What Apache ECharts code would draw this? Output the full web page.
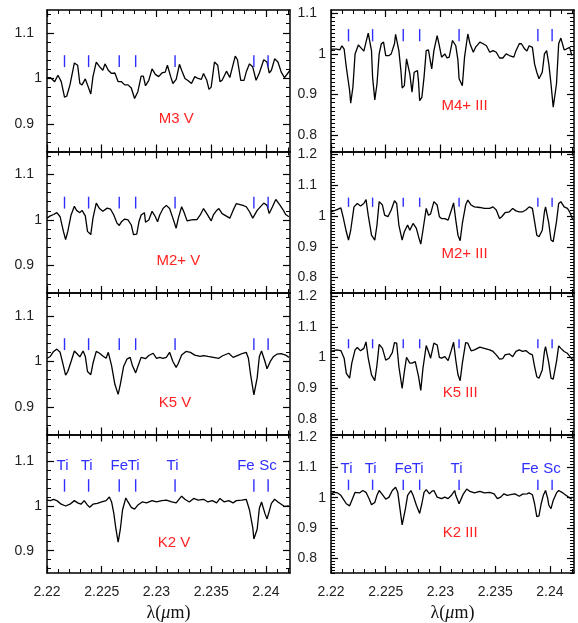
<!DOCTYPE html>
<html><head><meta charset="utf-8">
<script src="https://cdn.jsdelivr.net/npm/echarts@6/dist/echarts.min.js"></script>
<style>html,body{margin:0;padding:0;background:#fff}#c{width:578px;height:623px}</style>
</head><body><div id="c"></div>
<script>
// ---------------- DATA ----------------
const lineWavelengths = [2.2216, 2.2238, 2.2266, 2.2281, 2.2317, 2.2389, 2.2402];
const lineLabels = ['Ti', 'Ti', 'Fe', 'Ti', 'Ti', 'Fe', 'Sc'];
const xTicks = [2.22, 2.225, 2.23, 2.235, 2.24];
const yTicksDwarf = [0.9, 1, 1.1];
const yTicksGiantTop = [0.8, 0.9, 1, 1.1];
const yTicksGiant = [0.8, 0.9, 1, 1.1, 1.2];

const specM3V = [[2.2200,1.002],[2.2203,1.002],[2.2207,0.993],[2.2210,1.007],[2.2213,0.993],[2.2216,0.959],[2.2218,0.961],[2.2221,0.986],[2.2225,1.034],[2.2228,1.029],[2.2230,0.989],[2.2232,0.986],[2.2235,0.999],[2.2237,0.986],[2.2240,0.966],[2.2242,1.004],[2.2245,1.036],[2.2248,1.026],[2.2251,1.018],[2.2253,1.032],[2.2256,1.018],[2.2259,1.011],[2.2262,1.012],[2.2265,0.993],[2.2268,0.993],[2.2271,0.986],[2.2274,0.986],[2.2277,0.979],[2.2280,0.956],[2.2283,0.971],[2.2286,1.005],[2.2288,1.005],[2.2290,0.984],[2.2293,0.996],[2.2296,1.021],[2.2299,1.009],[2.2302,1.004],[2.2305,1.012],[2.2308,1.014],[2.2310,1.029],[2.2313,1.004],[2.2315,0.989],[2.2318,0.998],[2.2321,1.031],[2.2323,1.018],[2.2326,1.000],[2.2329,0.995],[2.2332,0.989],[2.2335,1.004],[2.2338,1.000],[2.2341,0.998],[2.2343,1.011],[2.2346,0.996],[2.2348,0.976],[2.2350,0.981],[2.2353,1.036],[2.2356,1.029],[2.2358,0.993],[2.2360,0.996],[2.2364,1.016],[2.2367,1.002],[2.2369,1.021],[2.2372,1.049],[2.2374,1.041],[2.2377,0.996],[2.2380,0.996],[2.2382,1.014],[2.2385,1.032],[2.2388,1.025],[2.2391,0.996],[2.2394,1.012],[2.2398,1.041],[2.2401,1.036],[2.2403,1.012],[2.2405,1.018],[2.2408,1.043],[2.2411,1.036],[2.2414,1.014],[2.2417,1.002],[2.2422,1.018]];

const specM2V = [[2.2200,1.004],[2.2203,1.009],[2.2206,1.012],[2.2209,1.016],[2.2212,1.007],[2.2215,0.975],[2.2217,0.957],[2.2219,0.975],[2.2222,1.011],[2.2225,1.030],[2.2227,1.021],[2.2230,1.016],[2.2232,1.021],[2.2235,1.009],[2.2237,0.975],[2.2240,0.968],[2.2242,1.004],[2.2245,1.037],[2.2248,1.025],[2.2251,1.019],[2.2255,1.026],[2.2258,1.024],[2.2261,1.011],[2.2264,0.993],[2.2266,0.988],[2.2268,0.996],[2.2271,1.002],[2.2274,1.000],[2.2277,0.989],[2.2279,0.968],[2.2282,0.969],[2.2284,0.996],[2.2286,1.011],[2.2289,1.016],[2.2290,0.995],[2.2293,1.000],[2.2296,1.019],[2.2299,1.007],[2.2301,0.996],[2.2303,1.011],[2.2306,1.025],[2.2309,1.032],[2.2312,1.025],[2.2315,1.004],[2.2318,0.982],[2.2320,1.004],[2.2323,1.029],[2.2325,1.018],[2.2328,0.998],[2.2332,1.000],[2.2337,1.001],[2.2340,1.011],[2.2343,1.025],[2.2346,1.014],[2.2350,0.998],[2.2352,1.011],[2.2355,1.021],[2.2357,1.025],[2.2360,1.014],[2.2367,1.004],[2.2370,1.021],[2.2373,1.036],[2.2379,1.032],[2.2382,1.029],[2.2385,1.018],[2.2388,1.004],[2.2392,1.021],[2.2398,1.037],[2.2401,1.032],[2.2403,1.014],[2.2406,1.029],[2.2409,1.045],[2.2413,1.032],[2.2416,1.021],[2.2418,1.012],[2.2421,1.007]];

const specK5V = [[2.2200,1.007],[2.2203,1.011],[2.2206,1.022],[2.2209,1.027],[2.2212,1.020],[2.2214,1.000],[2.2217,0.970],[2.2219,0.978],[2.2222,1.000],[2.2225,1.023],[2.2227,1.018],[2.2230,1.010],[2.2233,1.023],[2.2235,1.011],[2.2237,0.978],[2.2240,0.971],[2.2242,0.996],[2.2245,1.022],[2.2248,1.018],[2.2251,1.012],[2.2254,1.007],[2.2256,1.020],[2.2259,0.991],[2.2262,0.950],[2.2265,0.928],[2.2267,0.950],[2.2270,0.989],[2.2273,1.005],[2.2276,1.009],[2.2278,0.991],[2.2281,0.975],[2.2283,0.989],[2.2286,1.009],[2.2290,1.006],[2.2293,1.013],[2.2297,1.018],[2.2300,1.007],[2.2303,1.009],[2.2306,1.007],[2.2309,1.009],[2.2312,1.020],[2.2315,1.000],[2.2318,0.987],[2.2320,0.996],[2.2323,1.014],[2.2327,1.022],[2.2331,1.020],[2.2335,1.014],[2.2340,1.011],[2.2343,1.013],[2.2347,1.011],[2.2352,1.009],[2.2357,1.007],[2.2360,1.012],[2.2366,1.018],[2.2370,1.009],[2.2375,1.014],[2.2379,1.018],[2.2382,1.020],[2.2384,1.007],[2.2386,0.971],[2.2389,0.927],[2.2392,0.964],[2.2394,1.011],[2.2396,1.023],[2.2399,1.001],[2.2401,0.984],[2.2404,1.000],[2.2407,1.011],[2.2410,1.016],[2.2414,1.017],[2.2418,1.014],[2.2421,1.009]];

const specK2V = [[2.2200,1.013],[2.2203,1.012],[2.2206,1.015],[2.2209,1.012],[2.2213,1.004],[2.2217,1.000],[2.2221,1.004],[2.2225,1.012],[2.2228,1.007],[2.2231,1.004],[2.2234,1.012],[2.2237,1.002],[2.2239,0.997],[2.2242,1.004],[2.2246,1.006],[2.2250,1.009],[2.2254,1.012],[2.2257,1.020],[2.2259,1.009],[2.2261,0.984],[2.2263,0.948],[2.2265,0.919],[2.2267,0.948],[2.2269,0.991],[2.2272,1.018],[2.2274,1.009],[2.2277,0.997],[2.2280,0.993],[2.2283,1.002],[2.2287,1.009],[2.2291,1.007],[2.2296,1.012],[2.2300,1.009],[2.2305,1.012],[2.2309,1.013],[2.2314,1.009],[2.2318,1.007],[2.2323,1.022],[2.2326,1.015],[2.2330,1.009],[2.2334,1.017],[2.2338,1.013],[2.2343,1.015],[2.2347,1.009],[2.2351,1.012],[2.2355,1.007],[2.2358,1.017],[2.2362,1.009],[2.2366,1.012],[2.2370,1.007],[2.2373,1.012],[2.2378,1.013],[2.2382,1.015],[2.2385,0.991],[2.2388,0.951],[2.2389,0.926],[2.2392,0.948],[2.2394,0.995],[2.2396,1.009],[2.2399,0.984],[2.2401,0.971],[2.2403,0.988],[2.2405,1.006],[2.2408,1.015],[2.2411,1.009],[2.2414,1.004],[2.2417,0.999],[2.2421,1.000]];

const specM4III = [[2.2200,1.012],[2.2205,1.012],[2.2208,1.010],[2.2210,1.020],[2.2212,1.012],[2.2214,0.967],[2.2217,0.910],[2.2218,0.879],[2.2220,0.918],[2.2222,1.000],[2.2225,1.022],[2.2227,1.016],[2.2230,1.007],[2.2232,1.029],[2.2234,1.051],[2.2237,1.008],[2.2238,0.943],[2.2240,0.887],[2.2242,0.926],[2.2244,1.000],[2.2246,1.025],[2.2248,1.029],[2.2250,0.996],[2.2253,0.996],[2.2255,1.000],[2.2258,1.025],[2.2259,1.048],[2.2262,1.008],[2.2264,0.955],[2.2265,0.916],[2.2267,0.922],[2.2269,0.988],[2.2272,0.951],[2.2274,0.906],[2.2276,0.955],[2.2279,0.959],[2.2280,0.930],[2.2281,0.885],[2.2283,0.893],[2.2285,0.943],[2.2287,1.008],[2.2289,1.010],[2.2292,0.963],[2.2294,1.008],[2.2297,1.045],[2.2299,1.020],[2.2301,0.992],[2.2304,1.000],[2.2306,0.990],[2.2308,0.992],[2.2311,1.033],[2.2314,1.020],[2.2316,0.984],[2.2317,0.939],[2.2320,0.922],[2.2322,0.992],[2.2325,1.049],[2.2327,1.025],[2.2330,1.004],[2.2332,1.016],[2.2336,1.029],[2.2339,1.025],[2.2342,1.020],[2.2345,1.004],[2.2348,1.008],[2.2351,1.004],[2.2354,0.990],[2.2357,0.990],[2.2360,1.000],[2.2363,0.996],[2.2367,0.992],[2.2369,1.008],[2.2372,1.025],[2.2374,1.025],[2.2377,1.012],[2.2379,1.007],[2.2381,1.020],[2.2384,1.016],[2.2386,0.975],[2.2388,0.955],[2.2390,0.939],[2.2393,0.955],[2.2395,1.000],[2.2397,1.008],[2.2399,0.975],[2.2401,0.926],[2.2403,0.869],[2.2406,0.926],[2.2408,1.025],[2.2410,1.039],[2.2413,1.010],[2.2415,1.012],[2.2418,1.016],[2.2420,0.996]];

const specM2III = [[2.2200,1.014],[2.2205,1.020],[2.2209,1.027],[2.2211,0.998],[2.2214,0.949],[2.2216,0.922],[2.2218,0.954],[2.2221,1.030],[2.2224,1.041],[2.2227,1.033],[2.2230,1.041],[2.2232,1.054],[2.2234,1.003],[2.2237,0.938],[2.2240,0.922],[2.2242,0.971],[2.2244,1.047],[2.2247,1.036],[2.2249,1.003],[2.2252,0.998],[2.2255,1.020],[2.2258,1.050],[2.2260,1.041],[2.2262,0.971],[2.2265,0.922],[2.2267,0.949],[2.2270,0.971],[2.2272,0.954],[2.2275,0.976],[2.2278,0.960],[2.2280,0.933],[2.2282,0.909],[2.2284,0.954],[2.2287,1.025],[2.2289,1.003],[2.2291,1.007],[2.2294,1.047],[2.2297,1.036],[2.2299,0.998],[2.2301,0.992],[2.2304,0.992],[2.2307,0.987],[2.2310,1.020],[2.2312,1.043],[2.2314,0.987],[2.2316,0.938],[2.2318,0.920],[2.2320,0.976],[2.2323,1.036],[2.2325,1.052],[2.2328,1.036],[2.2331,1.030],[2.2336,1.028],[2.2340,1.025],[2.2345,1.025],[2.2348,1.030],[2.2351,1.020],[2.2354,0.992],[2.2356,0.998],[2.2359,1.011],[2.2363,1.014],[2.2366,1.025],[2.2369,1.017],[2.2372,1.014],[2.2375,1.014],[2.2378,1.020],[2.2381,1.030],[2.2384,1.025],[2.2386,0.982],[2.2388,0.938],[2.2390,0.933],[2.2393,0.954],[2.2395,1.014],[2.2396,1.030],[2.2399,0.976],[2.2401,0.922],[2.2403,0.917],[2.2406,0.982],[2.2408,1.041],[2.2410,1.047],[2.2413,1.030],[2.2416,1.025],[2.2418,1.014],[2.2421,0.987]];

const specK5III = [[2.2200,1.020],[2.2205,1.025],[2.2209,1.023],[2.2212,0.998],[2.2214,0.949],[2.2217,0.933],[2.2219,0.982],[2.2222,1.025],[2.2224,1.033],[2.2227,1.022],[2.2230,1.030],[2.2232,1.051],[2.2234,0.998],[2.2237,0.944],[2.2240,0.925],[2.2242,0.976],[2.2244,1.043],[2.2247,1.030],[2.2250,0.992],[2.2253,0.998],[2.2256,1.016],[2.2258,1.049],[2.2260,1.047],[2.2262,0.971],[2.2265,0.900],[2.2267,0.954],[2.2269,1.001],[2.2272,0.982],[2.2274,0.982],[2.2277,0.987],[2.2280,0.938],[2.2282,0.893],[2.2284,0.965],[2.2287,1.039],[2.2289,1.020],[2.2291,0.998],[2.2294,1.047],[2.2297,1.041],[2.2299,1.001],[2.2301,0.998],[2.2304,1.003],[2.2307,0.990],[2.2310,1.025],[2.2312,1.050],[2.2314,0.992],[2.2316,0.944],[2.2318,0.925],[2.2320,0.982],[2.2323,1.049],[2.2325,1.047],[2.2328,1.022],[2.2331,1.025],[2.2336,1.034],[2.2340,1.030],[2.2345,1.025],[2.2348,1.020],[2.2351,1.009],[2.2354,0.995],[2.2357,0.997],[2.2359,1.009],[2.2363,1.012],[2.2366,1.003],[2.2369,1.020],[2.2372,1.025],[2.2375,1.020],[2.2378,1.023],[2.2381,1.014],[2.2384,1.009],[2.2386,0.971],[2.2388,0.938],[2.2390,0.933],[2.2393,0.960],[2.2395,1.020],[2.2396,1.036],[2.2399,0.982],[2.2401,0.933],[2.2403,0.930],[2.2406,0.987],[2.2408,1.038],[2.2410,1.030],[2.2413,1.020],[2.2416,1.014],[2.2418,1.005],[2.2421,0.992]];

const specK2III = [[2.2200,1.013],[2.2203,1.018],[2.2206,1.016],[2.2209,1.008],[2.2212,0.991],[2.2214,0.980],[2.2217,0.973],[2.2219,0.991],[2.2222,1.018],[2.2226,1.016],[2.2229,1.024],[2.2232,1.018],[2.2235,0.995],[2.2237,0.977],[2.2240,0.984],[2.2242,1.008],[2.2244,1.024],[2.2247,1.010],[2.2250,0.995],[2.2253,1.002],[2.2256,1.024],[2.2259,1.035],[2.2261,1.018],[2.2263,0.964],[2.2265,0.910],[2.2268,0.964],[2.2270,1.008],[2.2273,1.024],[2.2275,1.008],[2.2278,0.975],[2.2281,0.948],[2.2283,0.980],[2.2285,1.018],[2.2287,1.027],[2.2290,1.013],[2.2292,1.021],[2.2294,1.024],[2.2297,1.002],[2.2301,0.997],[2.2304,1.002],[2.2307,0.997],[2.2310,1.008],[2.2313,1.024],[2.2314,1.008],[2.2317,0.980],[2.2319,0.997],[2.2321,1.013],[2.2324,1.029],[2.2327,1.021],[2.2331,1.016],[2.2336,1.021],[2.2340,1.016],[2.2345,1.018],[2.2349,1.013],[2.2352,0.997],[2.2355,1.002],[2.2358,1.013],[2.2361,1.008],[2.2364,1.010],[2.2368,1.013],[2.2372,1.005],[2.2375,1.012],[2.2379,1.013],[2.2381,1.016],[2.2384,1.010],[2.2386,0.980],[2.2388,0.937],[2.2390,0.940],[2.2392,0.980],[2.2394,1.008],[2.2396,1.024],[2.2398,0.997],[2.2399,0.975],[2.2401,0.964],[2.2403,0.991],[2.2406,1.016],[2.2408,1.024],[2.2411,1.018],[2.2414,1.010],[2.2417,1.002],[2.2420,0.995]];

// ---------------- LAYOUT / STYLE ----------------
const X_MIN = 2.22, X_MAX = 2.2422;
const COLS = [{left: 47, width: 243, labMargin: 13}, {left: 331, width: 243, labMargin: 14}];
const TOPS = [10, 151.5, 293, 434.5];
const PANEL_H = 141.5;
const LABEL_DX = [-2, -2, 0, -2, -2.5, -8, 0]; // px nudges of the element names

const panels = [
  {name: 'M3 V',    spec: specM3V,   col: 0, row: 0, ymin: 0.84, ymax: 1.15,  ticks: yTicksDwarf,    minor: 0.02, mk: [1.025, 1.051], nameAt: [2.2318, 0.912]},
  {name: 'M2+ V',   spec: specM2V,   col: 0, row: 1, ymin: 0.84, ymax: 1.15,  ticks: yTicksDwarf,    minor: 0.02, mk: [1.025, 1.051], nameAt: [2.2320, 0.911]},
  {name: 'K5 V',    spec: specK5V,   col: 0, row: 2, ymin: 0.84, ymax: 1.15,  ticks: yTicksDwarf,    minor: 0.02, mk: [1.025, 1.051], nameAt: [2.2317, 0.909]},
  {name: 'K2 V',    spec: specK2V,   col: 0, row: 3, ymin: 0.85, ymax: 1.16,  ticks: yTicksDwarf,    minor: 0.02, mk: [1.032, 1.060], nameAt: [2.2316, 0.917], labelY: 1.089},
  {name: 'M4+ III', spec: specM4III, col: 1, row: 0, ymin: 0.76, ymax: 1.108, ticks: yTicksGiantTop, minor: 0.01, mk: [1.031, 1.061], nameAt: [2.2322, 0.872]},
  {name: 'M2+ III', spec: specM2III, col: 1, row: 1, ymin: 0.75, ymax: 1.21,  ticks: yTicksGiant,    minor: 0.01, mk: [1.030, 1.060], nameAt: [2.2322, 0.876]},
  {name: 'K5 III',  spec: specK5III, col: 1, row: 2, ymin: 0.75, ymax: 1.21,  ticks: yTicksGiant,    minor: 0.01, mk: [1.030, 1.060], nameAt: [2.2318, 0.884]},
  {name: 'K2 III',  spec: specK2III, col: 1, row: 3, ymin: 0.75, ymax: 1.21,  ticks: yTicksGiant,    minor: 0.01, mk: [1.026, 1.060], nameAt: [2.2318, 0.883], labelY: 1.095}
];

const FONT = '"Liberation Sans", Arial, sans-serif';
const BLUE = '#2f2fff';
const RED = '#ff2323';

function stepValues(lo, hi, step) {
  const out = [];
  const k0 = Math.ceil(lo / step - 1e-6);
  for (let k = k0; k * step <= hi + 1e-9; k++) out.push(+(k * step).toFixed(5));
  return out;
}
const xMinorTicks = stepValues(X_MIN, X_MAX, 0.001);
const fmtY = v => String(+(+v).toFixed(2));

const grids = [], xAxes = [], yAxes = [], series = [];
const NY = 5;

panels.forEach((p, g) => {
  const c = COLS[p.col];
  grids.push({left: c.left, width: c.width, top: TOPS[p.row], height: PANEL_H, containLabel: false});
  const bottomRow = p.row === 3;
  const axisLine = {show: true, onZero: false, lineStyle: {color: '#000', width: 1.5}};
  const noLine = {show: false, onZero: false};
  const baseX = {type: 'value', gridIndex: g, min: X_MIN, max: X_MAX, splitLine: {show: false}, axisPointer: {show: false}};
  xAxes.push(Object.assign({}, baseX, {
    position: 'bottom', axisLine,
    axisTick: {show: true, inside: true, length: 7, lineStyle: {color: '#000', width: 1.2}, customValues: xTicks},
    axisLabel: {show: bottomRow, customValues: xTicks, margin: 12, color: '#222', fontSize: 14, fontFamily: FONT,
      formatter: v => String(+(+v).toFixed(3))},
    name: bottomRow ? 'λ({i|μ}m)' : '', nameLocation: 'middle', nameGap: 31,
    nameTextStyle: {fontFamily: '"Liberation Serif", serif', fontSize: 18, color: '#111',
      rich: {i: {fontStyle: 'italic', fontFamily: '"Liberation Serif", serif', fontSize: 18, color: '#111'}}}
  }));
  xAxes.push(Object.assign({}, baseX, {
    position: 'bottom', axisLine: noLine,
    axisTick: {show: true, inside: true, length: 4, lineStyle: {color: '#000', width: 1}, customValues: xMinorTicks},
    axisLabel: {show: false}
  }));
  xAxes.push(Object.assign({}, baseX, {
    position: 'top', axisLine,
    axisTick: {show: true, inside: true, length: 7, lineStyle: {color: '#000', width: 1.2}, customValues: xTicks},
    axisLabel: {show: false}
  }));
  xAxes.push(Object.assign({}, baseX, {
    position: 'top', axisLine: noLine,
    axisTick: {show: true, inside: true, length: 4, lineStyle: {color: '#000', width: 1}, customValues: xMinorTicks},
    axisLabel: {show: false}
  }));

  const yMinorTicks = stepValues(p.ymin, p.ymax, p.minor);
  const labelsMain = p.ticks.filter(v => v !== 1);
  const labelsOne = p.ticks.filter(v => v === 1);
  const baseY = {type: 'value', gridIndex: g, min: p.ymin, max: p.ymax, splitLine: {show: false}, axisPointer: {show: false}};
  yAxes.push(Object.assign({}, baseY, {
    position: 'left', axisLine,
    axisTick: {show: true, inside: true, length: 7, lineStyle: {color: '#000', width: 1.2}, customValues: p.ticks},
    axisLabel: {show: true, customValues: labelsMain, margin: c.labMargin, color: '#222', fontSize: 14, fontFamily: FONT, formatter: fmtY}
  }));
  yAxes.push(Object.assign({}, baseY, {
    position: 'left', axisLine: noLine,
    axisTick: {show: true, inside: true, length: 4, lineStyle: {color: '#000', width: 1}, customValues: yMinorTicks},
    axisLabel: {show: false}
  }));
  yAxes.push(Object.assign({}, baseY, {
    position: 'right', axisLine,
    axisTick: {show: true, inside: true, length: 7, lineStyle: {color: '#000', width: 1.2}, customValues: p.ticks},
    axisLabel: {show: false}
  }));
  yAxes.push(Object.assign({}, baseY, {
    position: 'right', axisLine: noLine,
    axisTick: {show: true, inside: true, length: 4, lineStyle: {color: '#000', width: 1}, customValues: yMinorTicks},
    axisLabel: {show: false}
  }));
  yAxes.push(Object.assign({}, baseY, {
    position: 'left', axisLine: noLine, axisTick: {show: false},
    axisLabel: {show: true, customValues: labelsOne, margin: 5, color: '#222', fontSize: 14, fontFamily: FONT, formatter: fmtY}
  }));

  const xi = 4 * g, yi = NY * g;
  series.push({
    type: 'line', xAxisIndex: xi, yAxisIndex: yi, data: p.spec, showSymbol: false, symbol: 'none',
    lineStyle: {color: '#000', width: 1.3}, clip: true, z: 3, silent: true
  });
  const mk = p.mk;
  series.push({
    type: 'custom', xAxisIndex: xi, yAxisIndex: yi, coordinateSystem: 'cartesian2d', silent: true, z: 4,
    data: lineWavelengths.map(w => [w, mk[1]]),
    encode: {x: 0, y: 1},
    renderItem: (params, api) => {
      const w = api.value(0);
      const a = api.coord([w, mk[0]]), b = api.coord([w, mk[1]]);
      return {type: 'line', shape: {x1: a[0], y1: a[1], x2: b[0], y2: b[1]},
        style: {stroke: BLUE, lineWidth: 1.4}};
    }
  });
  if (p.labelY) {
    const ly = p.labelY;
    series.push({
      type: 'custom', xAxisIndex: xi, yAxisIndex: yi, coordinateSystem: 'cartesian2d', silent: true, z: 5,
      data: lineWavelengths.map(w => [w, ly]),
      encode: {x: 0, y: 1},
      renderItem: (params, api) => {
        const pt = api.coord([api.value(0), api.value(1)]);
        return {type: 'text', x: pt[0] + LABEL_DX[params.dataIndex], y: pt[1],
          style: {text: lineLabels[params.dataIndex], fill: BLUE, fontSize: 15, fontFamily: FONT,
            align: 'center', verticalAlign: 'middle', textAlign: 'center', textVerticalAlign: 'middle'}};
      }
    });
  }
  const nm = p.name;
  series.push({
    type: 'custom', xAxisIndex: xi, yAxisIndex: yi, coordinateSystem: 'cartesian2d', silent: true, z: 5,
    data: [p.nameAt],
    encode: {x: 0, y: 1},
    renderItem: (params, api) => {
      const pt = api.coord([api.value(0), api.value(1)]);
      return {type: 'text', x: pt[0], y: pt[1],
        style: {text: nm, fill: RED, fontSize: 15, fontFamily: FONT,
          align: 'center', verticalAlign: 'middle', textAlign: 'center', textVerticalAlign: 'middle'}};
    }
  });
});

const chart = echarts.init(document.getElementById('c'), null, {renderer: 'canvas', width: 578, height: 623});
chart.setOption({
  animation: false,
  backgroundColor: '#fff',
  grid: grids,
  xAxis: xAxes,
  yAxis: yAxes,
  series: series
});
</script>
</body></html>
